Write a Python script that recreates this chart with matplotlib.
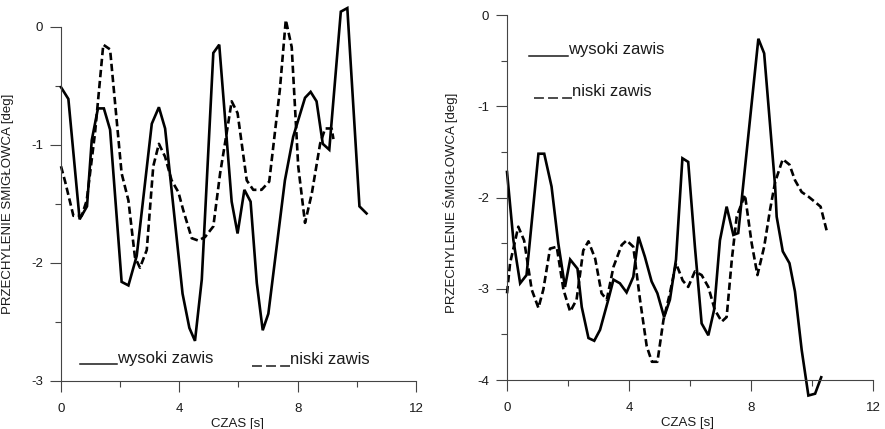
import numpy as np
import matplotlib
matplotlib.use("Agg")
import matplotlib.pyplot as plt

plt.rcParams['font.family'] = ['Liberation Sans', 'DejaVu Sans']
plt.rcParams['axes.unicode_minus'] = False

# czas [s] i przechylenie [deg] - lewy wykres
t_wys_a = [0, 0.25, 0.63, 0.88, 1.04, 1.25, 1.45, 1.66, 2.05, 2.28, 2.56, 3.07, 3.31, 3.52,
           4.11, 4.34, 4.53, 4.76, 5.15, 5.35, 5.77, 5.97, 6.2, 6.41, 6.62, 6.82, 7.01,
           7.57, 7.85, 8.25, 8.44, 8.64, 8.85, 9.07, 9.46, 9.68, 10.09, 10.33]
v_wys_a = [-0.51, -0.61, -1.63, -1.52, -0.96, -0.69, -0.69, -0.87, -2.16, -2.19, -1.94, -0.82,
           -0.68, -0.86, -2.26, -2.55, -2.66, -2.14, -0.22, -0.15, -1.48, -1.75, -1.38, -1.48,
           -2.17, -2.57, -2.43, -1.30, -0.93, -0.60, -0.55, -0.63, -0.99, -1.04, 0.13, 0.16,
           -1.52, -1.58]
t_nis_a = [0, 0.14, 0.42, 0.70, 0.87, 1.15, 1.43, 1.66, 2.05, 2.28, 2.50, 2.67, 2.90, 3.12,
           3.31, 3.52, 3.74, 3.97, 4.13, 4.42, 4.64, 4.87, 5.15, 5.38, 5.60, 5.77, 5.97, 6.28,
           6.50, 6.78, 7.04, 7.40, 7.60, 7.80, 8.02, 8.25, 8.48, 8.76, 8.93, 9.15, 9.21]
v_nis_a = [-1.18, -1.31, -1.60, -1.60, -1.47, -0.90, -0.15, -0.19, -1.24, -1.47, -1.95, -2.04,
           -1.89, -1.18, -0.99, -1.10, -1.30, -1.40, -1.55, -1.79, -1.81, -1.78, -1.69, -1.24,
           -0.90, -0.63, -0.73, -1.30, -1.38, -1.38, -1.31, -0.53, 0.06, -0.17, -1.18, -1.66,
           -1.41, -0.99, -0.86, -0.86, -0.95]

# prawy wykres
t_wys_b = [0, 0.21, 0.43, 0.64, 1.03, 1.22, 1.46, 1.68, 1.90, 2.07, 2.31, 2.45, 2.67, 2.86,
           3.05, 3.32, 3.49, 3.70, 3.92, 4.14, 4.31, 4.52, 4.74, 4.93, 5.15, 5.34, 5.54, 5.75,
           5.94, 6.16, 6.38, 6.60, 6.79, 6.98, 7.20, 7.42, 7.58, 8.24, 8.43, 8.79, 8.84, 9.04,
           9.26, 9.44, 9.66, 9.88, 10.10, 10.30]
v_wys_b = [-1.72, -2.47, -2.94, -2.85, -1.52, -1.52, -1.88, -2.50, -2.98, -2.68, -2.78, -3.20,
           -3.54, -3.57, -3.45, -3.12, -2.90, -2.94, -3.04, -2.87, -2.43, -2.65, -2.92, -3.05,
           -3.31, -3.12, -2.68, -1.57, -1.61, -2.54, -3.38, -3.51, -3.23, -2.47, -2.10, -2.41,
           -2.39, -0.26, -0.42, -1.88, -2.21, -2.59, -2.72, -3.03, -3.67, -4.17, -4.15, -3.97]
t_nis_b = [0, 0.10, 0.37, 0.56, 0.81, 1.03, 1.19, 1.41, 1.63, 1.85, 2.07, 2.28, 2.50, 2.67,
           2.89, 3.10, 3.27, 3.49, 3.76, 3.92, 4.14, 4.36, 4.58, 4.75, 4.93, 5.13, 5.34, 5.54,
           5.76, 5.94, 6.16, 6.38, 6.60, 6.81, 7.04, 7.20, 7.37, 7.53, 7.80, 8.02, 8.21, 8.43,
           8.62, 8.79, 9.04, 9.26, 9.44, 9.66, 9.88, 10.10, 10.28, 10.50]
v_nis_b = [-3.05, -2.72, -2.32, -2.47, -3.01, -3.21, -3.01, -2.56, -2.54, -3.01, -3.25, -3.12,
           -2.58, -2.48, -2.67, -3.05, -3.12, -2.76, -2.52, -2.47, -2.54, -3.12, -3.63, -3.80,
           -3.80, -3.34, -3.05, -2.72, -2.91, -2.98, -2.81, -2.85, -2.98, -3.23, -3.36, -3.31,
           -2.68, -2.21, -1.97, -2.50, -2.85, -2.54, -2.14, -1.83, -1.58, -1.64, -1.81, -1.94,
           -1.99, -2.05, -2.10, -2.39]

x_ticks = [0, 4, 8, 12]
x_minor = [2, 6, 10]
label_wys = "wysoki zawis"
label_nis = "niski zawis"
x_label = "CZAS [s]"
y_label = "PRZECHYLENIE ŚMIGŁOWCA [deg]"

AX_COL = "#444444"
TXT_COL = "#1a1a1a"


def setup_axes(ax, ymin, ylabel_pos, xlabel_pos):
    ax.set_xlim(0, 12)
    ax.set_ylim(ymin, 0)
    for s in ("top", "right"):
        ax.spines[s].set_visible(False)
    for s in ("left", "bottom"):
        ax.spines[s].set_color(AX_COL)
        ax.spines[s].set_linewidth(0.8)
    ax.set_xticks(x_ticks)
    ax.set_xticks(x_minor, minor=True)
    ax.set_yticks(np.arange(ymin, 0.5, 1))
    ax.set_yticks(np.arange(ymin + 0.5, 0, 1), minor=True)
    ax.tick_params(which="major", length=8, width=0.8, color=AX_COL,
                   labelsize=9.5, labelcolor=TXT_COL)
    ax.tick_params(which="minor", length=4.5, width=0.8, color=AX_COL)
    ax.tick_params(axis="x", which="major", pad=8)
    ax.tick_params(axis="y", which="major", pad=5)
    ax.set_xlabel(x_label, fontsize=9.5, color=TXT_COL)
    ax.set_ylabel(y_label, fontsize=9.5, color=TXT_COL)
    ax.xaxis.set_label_coords(*xlabel_pos)
    ax.yaxis.set_label_coords(*ylabel_pos)


def draw_key(ax, x0, x1, y, text, dashed):
    # "legenda" jak w oryginale: kreska przy linii bazowej tekstu
    kw = dict(color=TXT_COL, lw=1.1, transform=ax.transAxes, clip_on=False)
    if dashed:
        kw["dashes"] = (6.5, 2.7)
    ax.plot([x0, x1], [y, y], **kw)
    ax.text(x1, y + 0.004, text, transform=ax.transAxes, fontsize=12,
            color=TXT_COL, va="baseline", ha="left")


def plot_pair(ax, tw, vw, tn, vn):
    ax.plot(tw, vw, color="black", lw=1.9, clip_on=False, solid_joinstyle="miter")
    ax.plot(tn, vn, color="black", lw=1.9, dashes=(2.8, 1.4), clip_on=False)


fig = plt.figure(figsize=(8.85, 4.29), dpi=100)
ax1 = fig.add_axes([0.0689, 0.1119, 0.4011, 0.8252])
ax2 = fig.add_axes([0.5729, 0.1142, 0.4136, 0.8508])

plot_pair(ax1, t_wys_a, v_wys_a, t_nis_a, v_nis_a)
setup_axes(ax1, -3, (-0.132, 0.50), (0.496, -0.105))
draw_key(ax1, 0.0535, 0.158, 0.048, label_wys, False)
draw_key(ax1, 0.539, 0.645, 0.043, label_nis, True)

plot_pair(ax2, t_wys_b, v_wys_b, t_nis_b, v_nis_b)
setup_axes(ax2, -4, (-0.133, 0.485), (0.493, -0.101))
draw_key(ax2, 0.061, 0.166, 0.888, label_wys, False)
draw_key(ax2, 0.075, 0.177, 0.773, label_nis, True)

fig.savefig("out.png", dpi=100)
